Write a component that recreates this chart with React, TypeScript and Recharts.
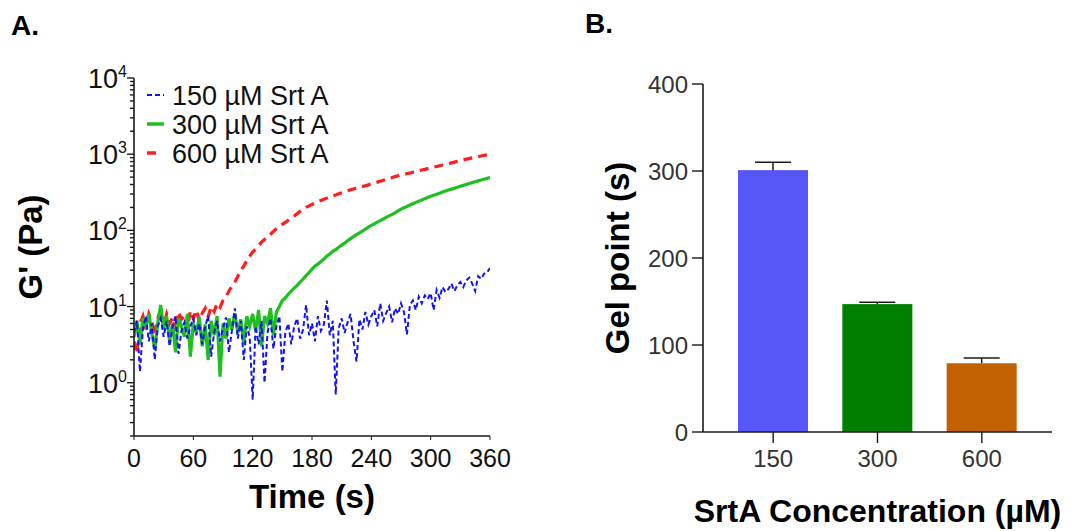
import { LineChart, Line, XAxis, YAxis, BarChart, Bar, Cell, Label } from 'recharts';

const FONT = '"Liberation Sans", Arial, Helvetica, sans-serif';

// Panel A: storage modulus G' (Pa), sampled every 3 s from 0 to 360 s
const TIME_STEP_S = 3;

const g600 = [
  3.5, 2.4, 6, 7.5, 5, 8, 6.5, 4.2, 7, 9,
  5.5, 8, 6, 7.2, 4.8, 8.5, 6.8, 7.5, 5.2, 8.8,
  7, 9, 6.5, 8.2, 9.5, 7.4, 10, 8.6, 11, 9.8,
  12, 13.5, 16, 18.5, 21, 25, 30, 34, 40, 46,
  52, 57, 63, 70, 76, 82, 89, 97, 105, 112,
  120, 127, 136, 146, 155, 165, 178, 190, 200, 210,
  219, 228, 238, 247, 256, 265, 274, 283, 292, 302,
  311, 321, 331, 341, 350, 360, 368, 375, 386, 396,
  407, 419, 430, 442, 455, 468, 481, 494, 508, 520,
  531, 543, 555, 567, 580, 592, 605, 619, 632, 646,
  660, 675, 690, 705, 721, 737, 753, 770, 787, 805,
  822, 840, 860, 876, 893, 910, 928, 946, 964, 982,
  1000,
];

const g300 = [
  4, 6.5, 3.2, 7, 5.5, 8, 4.5, 2.8, 6, 10.5,
  5, 7.5, 3.5, 6, 2.5, 7, 5.5, 4, 8, 2.2,
  6, 4.5, 7.2, 3, 5.8, 2, 6.5, 4.2, 7.5, 1.2,
  6, 3.8, 7, 5, 8.2, 4.5, 6.8, 3.2, 7.5, 5.5,
  8, 4.8, 9, 3, 7.5, 6, 9.5, 4.2, 8.5, 10,
  12, 13, 14.5, 16, 17.5, 19, 21, 23, 25.5, 28,
  31, 34, 36, 39, 42, 46, 49, 53, 56, 60,
  64, 68, 73, 78, 83, 88, 93, 98, 104, 110,
  116, 122, 128, 134, 141, 148, 155, 162, 170, 180,
  190, 198, 206, 215, 224, 233, 242, 251, 261, 270,
  280, 289, 298, 308, 318, 328, 338, 348, 358, 369,
  380, 390, 401, 412, 423, 434, 446, 458, 470, 482,
  495,
];

const g150 = [
  4.5, 6.5, 1.4, 5, 7.5, 3.5, 6, 2.0, 5.5, 7,
  4, 6.5, 3, 5.5, 7.5, 2.4, 4.8, 6.2, 3.8, 5.5,
  7, 4.2, 6, 3.2, 5.5, 7.5, 2.2, 4.5, 6.5, 3.5,
  5.2, 7.2, 2.5, 4.8, 9.5, 3.8, 6.5, 2, 5.5, 4,
  0.6, 5.5, 3.2, 6.5, 1.0, 4.5, 7, 2.8, 5.5, 7.5,
  1.4, 4.5, 6, 3.2, 5.5, 7, 3.8, 5, 10.5, 4.2,
  6, 3.5, 7.5, 4.8, 5.8, 12, 4.2, 6.5, 0.7, 5.2,
  7, 4.5, 6.2, 8, 3.5, 1.9, 6.8, 5, 8.5, 5.8,
  7.5, 9, 5.5, 11, 6.5, 8.2, 10, 6.2, 9.5, 8,
  11, 8.5, 4.3, 10.5, 12, 9, 13.5, 11, 14, 12.5,
  15, 9, 16.5, 13, 18, 15.5, 17, 20, 16, 19,
  21, 18, 22, 24, 20, 16, 25, 23, 27, 28,
  32,
];

const seriesNames = ['150 µM Srt A', '300 µM Srt A', '600 µM Srt A'];
const seriesColors = ['#1414f0', '#1fbf1f', '#ff1e1e'];

const timeTicks = [0, 60, 120, 180, 240, 300, 360];
const decades = [0.1, 1, 10, 100, 1000];

// Panel B: gel point
const concentrations = ['150', '300', '600'];
const gelPoint = [301, 147, 79];
const gelErr = [9, 2, 6];
const barColors = ['#5757f8', '#007f00', '#c26100'];
const gelTicks = [0, 100, 200, 300, 400];

const toSeries = (vals: number[]) => vals.map((g, i) => ({ t: i * TIME_STEP_S, g }));
const s150 = toSeries(g150);
const s300 = toSeries(g300);
const s600 = toSeries(g600);

const logTicks: number[] = [];
decades.forEach((d) => {
  for (let m = 1; m < 10; m++) {
    const v = +(d * m).toPrecision(3);
    if (v >= 0.2 && v <= 10000) logTicks.push(v);
  }
});
logTicks.push(10000);

const barData = concentrations.map((c, i) => ({ conc: c, gel: gelPoint[i], err: gelErr[i] }));

const AXIS = { stroke: '#1a1a1a', strokeWidth: 1.6 };

function LogTick(props: any) {
  const { x, y, payload } = props;
  const v = payload.value as number;
  const lg = Math.log10(v);
  const exp = Math.round(lg);
  const major = Math.abs(lg - exp) < 1e-6;
  return (
    <g>
      <line x1={x - (major ? 7 : 4)} x2={x} y1={y} y2={y} stroke="#1a1a1a" strokeWidth={1.4} />
      {major && (
        <text x={x - 7} y={y + 10} textAnchor="end" fontSize={27} fill="#111" fontFamily={FONT}>
          10
          <tspan dy={-11} fontSize={16}>
            {exp}
          </tspan>
        </text>
      )}
    </g>
  );
}

function rotatedTitle(text: string, cx: number, cy: number) {
  return () => (
    <text
      x={cx}
      y={cy}
      transform={`rotate(-90 ${cx} ${cy})`}
      textAnchor="middle"
      dominantBaseline="central"
      fontSize={33}
      fontWeight={700}
      fill="#000"
      fontFamily={FONT}
    >
      {text}
    </text>
  );
}

function GelBar(props: any) {
  const { x, y, width, height, payload, index } = props;
  const pxPerUnit = height / payload.gel;
  const top = y - payload.err * pxPerUnit;
  const cx = x + width / 2;
  return (
    <g>
      <rect x={x} y={y} width={width} height={height} fill={barColors[index]} />
      <line x1={cx} x2={cx} y1={y} y2={top} stroke="#1a1a1a" strokeWidth={1.5} />
      <line x1={cx - 18} x2={cx + 18} y1={top} y2={top} stroke="#1a1a1a" strokeWidth={1.5} />
    </g>
  );
}

function PanelA() {
  return (
    <LineChart width={540} height={531} margin={{ top: 78, right: 50, bottom: 0, left: 0 }}>
      <XAxis
        dataKey="t"
        type="number"
        domain={[0, 360]}
        ticks={timeTicks}
        allowDataOverflow
        height={95}
        tickSize={4}
        tickMargin={9}
        axisLine={AXIS}
        tickLine={{ stroke: '#1a1a1a' }}
        tick={{ fontSize: 25, fill: '#111', fontFamily: FONT }}
      >
        <Label value="Time (s)" position="insideBottom" offset={23} fontSize={33} fontWeight={700} fill="#000" fontFamily={FONT} />
      </XAxis>
      <XAxis xAxisId="top" orientation="top" type="number" domain={[0, 360]} height={0} tick={false} tickLine={false} axisLine={AXIS} />
      <YAxis
        dataKey="g"
        type="number"
        scale="log"
        domain={[0.2, 10000]}
        allowDataOverflow
        ticks={logTicks}
        interval={0}
        width={134}
        tickSize={0}
        tickMargin={0}
        tickLine={false}
        axisLine={AXIS}
        tick={<LogTick />}
      >
        <Label content={rotatedTitle("G' (Pa)", 30, 247)} />
      </YAxis>
      <YAxis yAxisId="right" orientation="right" type="number" domain={[0, 1]} width={0} tick={false} tickLine={false} axisLine={AXIS} />
      <Line data={s600} dataKey="g" stroke={seriesColors[2]} strokeWidth={3.2} strokeDasharray="9 6" dot={false} isAnimationActive={false} />
      <Line data={s300} dataKey="g" stroke={seriesColors[1]} strokeWidth={3.2} dot={false} isAnimationActive={false} />
      <Line data={s150} dataKey="g" stroke={seriesColors[0]} strokeWidth={2} strokeDasharray="5 3" dot={false} isAnimationActive={false} />
    </LineChart>
  );
}

function PanelB() {
  return (
    <BarChart width={532} height={531} data={barData} margin={{ top: 84, right: 20, bottom: 0, left: 0 }}>
      <XAxis
        dataKey="conc"
        padding={{ left: 18, right: 18 }}
        height={99}
        tickSize={11}
        tickMargin={7}
        axisLine={AXIS}
        tickLine={{ stroke: '#1a1a1a', strokeWidth: 1.4 }}
        tick={{ fontSize: 24, fill: '#333', fontFamily: FONT }}
      >
        <Label value="SrtA Concentration (µM)" position="insideBottom" offset={9} fontSize={32} fontWeight={700} fill="#000" fontFamily={FONT} />
      </XAxis>
      <XAxis xAxisId="top" orientation="top" dataKey="conc" height={0} tick={false} tickLine={false} axisLine={AXIS} />
      <YAxis
        type="number"
        domain={[0, 400]}
        ticks={gelTicks}
        width={163}
        tickSize={11}
        tickMargin={4}
        axisLine={AXIS}
        tickLine={{ stroke: '#1a1a1a', strokeWidth: 1.4 }}
        tick={{ fontSize: 24, fill: '#333', fontFamily: FONT }}
      >
        <Label content={rotatedTitle('Gel point (s)', 77, 258)} />
      </YAxis>
      <YAxis yAxisId="right" orientation="right" type="number" domain={[0, 1]} width={0} tick={false} tickLine={false} axisLine={AXIS} />
      <Bar dataKey="gel" barSize={70} shape={<GelBar />} isAnimationActive={false}>
        {barData.map((d, i) => (
          <Cell key={d.conc} fill={barColors[i]} />
        ))}
      </Bar>
    </BarChart>
  );
}

export default function App() {
  const legendRows = [105, 134, 163];
  return (
    <div style={{ position: 'absolute', left: 0, top: 0, width: 1072, height: 531, background: '#fff', fontFamily: FONT }}>
      <div style={{ position: 'absolute', left: 0, top: 0 }}>
        <PanelA />
      </div>
      <div style={{ position: 'absolute', left: 540, top: 0 }}>
        <PanelB />
      </div>
      <svg width={1072} height={531} style={{ position: 'absolute', left: 0, top: 0, pointerEvents: 'none' }}>
        <text x={11} y={35} fontSize={28} fontWeight={700} fontFamily={FONT} fill="#000">A.</text>
        <text x={585} y={33} fontSize={28} fontWeight={700} fontFamily={FONT} fill="#000">B.</text>
        {seriesNames.map((name, i) => {
          const base = legendRows[i];
          const ly = base - 10;
          return (
            <g key={name}>
              {i === 0 && <line x1={147} x2={164} y1={ly} y2={ly} stroke={seriesColors[0]} strokeWidth={2} strokeDasharray="5 3" />}
              {i === 1 && <line x1={147} x2={164} y1={ly} y2={ly} stroke={seriesColors[1]} strokeWidth={3.5} />}
              {i === 2 && <line x1={147} x2={156} y1={ly} y2={ly} stroke={seriesColors[2]} strokeWidth={3.5} />}
              <text x={172} y={base} fontSize={27} fill="#111" fontFamily={FONT}>
                {name}
              </text>
            </g>
          );
        })}
      </svg>
    </div>
  );
}
